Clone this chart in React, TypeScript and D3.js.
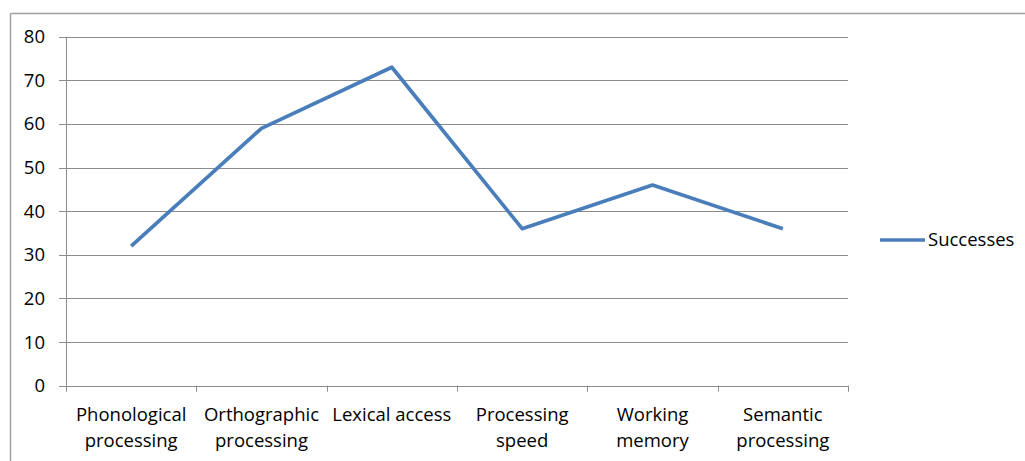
import React from "react";
import * as d3 from "d3";

const categories: string[][] = [
  ["Phonological", "processing"],
  ["Orthographic", "processing"],
  ["Lexical access"],
  ["Processing", "speed"],
  ["Working", "memory"],
  ["Semantic", "processing"],
];
const successes: number[] = [32, 59, 73, 36, 46, 36];
const yTicks: number[] = [0, 10, 20, 30, 40, 50, 60, 70, 80];
const seriesName = "Successes";

const W = 1025;
const H = 461;
const left = 66;
const right = 848;
const top = 36.7;
const bottom = 385.7;
const FONT = "'Open Sans', 'Liberation Sans', sans-serif";
const FS = 18.5;

export default function App() {
  const x = d3.scaleBand<number>().domain(categories.map((_, i) => i)).range([left, right]);
  const y = d3.scaleLinear().domain([0, 80]).range([bottom, top]);
  const line = d3
    .line<number>()
    .x((_, i) => (x(i) as number) + x.bandwidth() / 2)
    .y((d) => y(d));
  const grid = "#8c8c8c";
  return (
    <svg width={W} height={H} style={{ position: "absolute", left: 0, top: 0 }}>
      <rect x={0} y={0} width={W} height={H} fill="#fff" />
      <line x1={10.5} x2={W} y1={13.5} y2={13.5} stroke="#a0a0a0" strokeWidth={1.5} />
      <line x1={10.5} x2={10.5} y1={13.5} y2={H} stroke="#a0a0a0" strokeWidth={1.5} />
      {yTicks.map((t) => (
        <g key={t}>
          <line x1={59} x2={right} y1={Math.round(y(t)) + 0.5} y2={Math.round(y(t)) + 0.5} stroke={grid} strokeWidth={1} />
          <text x={45} y={y(t)} dy="0.35em" textAnchor="end" fontFamily={FONT} fontSize={FS} fill="#000">
            {t}
          </text>
        </g>
      ))}
      <line x1={left + 0.5} x2={left + 0.5} y1={top} y2={bottom} stroke={grid} />
      {d3.range(categories.length + 1).map((i) => {
        const xp = Math.round(left + i * x.bandwidth()) + 0.5;
        return <line key={i} x1={xp} x2={xp} y1={bottom} y2={bottom + 6} stroke={grid} />;
      })}
      {categories.map((c, i) => (
        <text key={i} textAnchor="middle" fontFamily={FONT} fontSize={FS} fill="#000">
          {c.map((s, j) => (
            <tspan key={j} x={(x(i) as number) + x.bandwidth() / 2} y={421 + j * 26}>
              {s}
            </tspan>
          ))}
        </text>
      ))}
      <path d={line(successes) || ""} fill="none" stroke="#4a7ebb" strokeWidth={3.7} strokeLinejoin="round" />
      <line x1={880} x2={925} y1={240} y2={240} stroke="#4a7ebb" strokeWidth={3.7} />
      <text x={928} y={240} dy="0.35em" fontFamily={FONT} fontSize={FS} fill="#000">
        {seriesName}
      </text>
    </svg>
  );
}
